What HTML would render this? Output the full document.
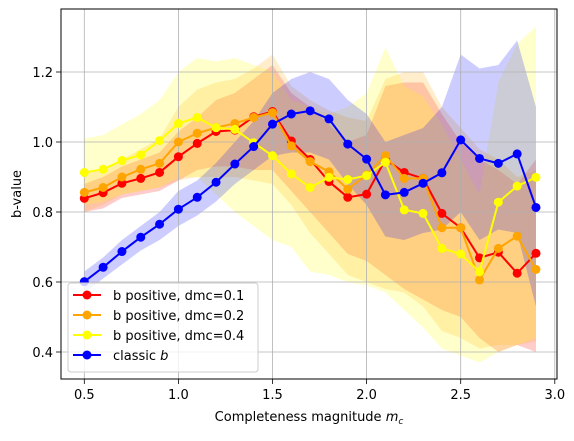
<!DOCTYPE html>
<html><head><meta charset="utf-8"><style>
body{margin:0;background:#fff;}
svg text{font-family:"DejaVu Sans","Liberation Sans",sans-serif;font-size:13px;fill:#000;}
</style></head><body>
<svg id="chart" width="574" height="436" xmlns="http://www.w3.org/2000/svg">
<g id="fills"></g>
<g id="grid"></g>
<g id="lines"></g>
<rect x="61" y="9" width="496" height="370" fill="none" stroke="#000" stroke-width="1"/>
<g id="ticks"></g>
<text x="309" y="421" text-anchor="middle">Completeness magnitude <tspan font-style="italic">m</tspan><tspan font-style="italic" font-size="9" dy="3">c</tspan></text>
<text transform="translate(21,194) rotate(-90)" text-anchor="middle">b-value</text>
<g id="legend">
<rect x="68" y="283" width="190" height="89" rx="3" fill="#fff" fill-opacity="0.8" stroke="#ccc"/>
</g>
</svg>
<script>
const xs=[0.5,0.6,0.7,0.8,0.9,1.0,1.1,1.2,1.3,1.4,1.5,1.6,1.7,1.8,1.9,2.0,2.1,2.2,2.3,2.4,2.5,2.6,2.7,2.8,2.9];
const red=[0.839,0.855,0.882,0.896,0.913,0.958,0.996,1.03,1.034,1.072,1.087,1.003,0.95,0.887,0.842,0.851,0.95,0.913,0.896,0.796,0.755,0.669,0.685,0.625,0.682];
const orange=[0.856,0.87,0.9,0.922,0.939,1.0,1.025,1.041,1.053,1.07,1.084,0.989,0.944,0.915,0.865,0.906,0.961,0.896,0.896,0.755,0.755,0.606,0.696,0.731,0.636];
const yellow=[0.913,0.922,0.947,0.963,1.004,1.053,1.07,1.041,1.036,0.998,0.961,0.909,0.87,0.899,0.893,0.904,0.942,0.806,0.796,0.696,0.68,0.629,0.828,0.874,0.899];
const blue=[0.601,0.642,0.687,0.728,0.765,0.808,0.842,0.885,0.937,0.987,1.051,1.08,1.089,1.066,0.994,0.951,0.849,0.856,0.882,0.912,1.006,0.953,0.939,0.966,0.813];
const redLo=[0.80,0.81,0.84,0.85,0.86,0.89,0.92,0.93,0.93,0.92,0.92,0.86,0.80,0.74,0.68,0.66,0.62,0.58,0.55,0.52,0.50,0.44,0.40,0.42,0.40];
const redHi=[0.88,0.90,0.93,0.95,0.97,1.03,1.07,1.12,1.14,1.18,1.22,1.14,1.10,1.05,1.00,1.02,1.16,1.17,1.17,1.08,1.00,0.95,0.92,0.88,0.95];
const orangeLo=[0.80,0.82,0.85,0.86,0.87,0.89,0.90,0.90,0.90,0.89,0.88,0.82,0.74,0.68,0.62,0.60,0.58,0.57,0.53,0.46,0.44,0.41,0.42,0.42,0.43];
const orangeHi=[0.91,0.92,0.95,0.98,1.01,1.10,1.15,1.17,1.18,1.21,1.25,1.16,1.12,1.09,1.07,1.06,1.18,1.20,1.20,1.10,1.04,0.98,0.95,0.90,0.92];
const yellowLo=[0.82,0.83,0.85,0.86,0.87,0.90,0.90,0.85,0.80,0.76,0.72,0.70,0.63,0.62,0.60,0.59,0.57,0.52,0.47,0.41,0.39,0.37,0.40,0.42,0.44];
const yellowHi=[1.01,1.02,1.05,1.08,1.12,1.20,1.24,1.23,1.24,1.22,1.20,1.12,1.10,1.08,1.10,1.14,1.27,1.16,1.13,1.05,0.95,0.85,1.17,1.28,1.33];
const blueLo=[0.57,0.61,0.65,0.69,0.72,0.76,0.79,0.83,0.88,0.92,0.96,0.97,0.97,0.95,0.88,0.82,0.73,0.72,0.74,0.75,0.80,0.72,0.75,0.74,0.53];
const blueHi=[0.63,0.67,0.72,0.76,0.80,0.86,0.89,0.94,1.00,1.06,1.14,1.18,1.20,1.18,1.12,1.08,1.00,1.02,1.04,1.10,1.25,1.21,1.22,1.29,1.10];
const xTicks=[0.5,1.0,1.5,2.0,2.5,3.0];
const yTicks=[0.4,0.6,0.8,1.0,1.2];
const legendLabels=["b positive, dmc=0.1","b positive, dmc=0.2","b positive, dmc=0.4","classic "];

const NS="http://www.w3.org/2000/svg";
const X=v=>84.3+(v-0.5)*188.2;
const Y=v=>142-(v-1.0)*350;
function mk(tag,attrs,parent){const e=document.createElementNS(NS,tag);for(const k in attrs)e.setAttribute(k,attrs[k]);parent.appendChild(e);return e;}
const fills=document.getElementById('fills'),grid=document.getElementById('grid'),lines=document.getElementById('lines'),ticks=document.getElementById('ticks'),legend=document.getElementById('legend');

const series=[
 {name:'dmc-0-1',vals:red,lo:redLo,hi:redHi,c:'#ff0000'},
 {name:'dmc-0-2',vals:orange,lo:orangeLo,hi:orangeHi,c:'#ffa500'},
 {name:'dmc-0-4',vals:yellow,lo:yellowLo,hi:yellowHi,c:'#ffff00'},
 {name:'classic-b',vals:blue,lo:blueLo,hi:blueHi,c:'#0000ff'}
];
series.forEach(s=>{
 let d='M'+xs.map((x,i)=>X(x)+','+Y(s.hi[i])).join('L');
 d+='L'+xs.slice().reverse().map((x,j)=>{const i=xs.length-1-j;return X(x)+','+Y(s.lo[i]);}).join('L')+'Z';
 const p=mk('path',{d:d,fill:s.c,'fill-opacity':0.2,stroke:'none'},fills);
 
 
});
xTicks.forEach(t=>{
 const l=mk('line',{x1:X(t),x2:X(t),y1:9,y2:379,stroke:'#b0b0b0','stroke-width':0.8},grid);
 
 
 const tk=mk('line',{x1:X(t),x2:X(t),y1:379,y2:384,stroke:'#000','stroke-width':0.8},ticks);
 
 
 const tx=mk('text',{x:X(t),y:399,'text-anchor':'middle'},ticks);
 tx.textContent=t.toFixed(1);
 
 
});
yTicks.forEach(t=>{
 const l=mk('line',{x1:61,x2:557,y1:Y(t),y2:Y(t),stroke:'#b0b0b0','stroke-width':0.8},grid);
 
 
 const tk=mk('line',{x1:56,x2:61,y1:Y(t),y2:Y(t),stroke:'#000','stroke-width':0.8},ticks);
 
 
 const tx=mk('text',{x:53,y:Y(t)+5,'text-anchor':'end'},ticks);
 tx.textContent=t.toFixed(1);
 
 
});
series.forEach(s=>{
 const g=mk('g',{},lines);
 
 
 const pl=mk('polyline',{points:xs.map((x,i)=>X(x)+','+Y(s.vals[i])).join(' '),fill:'none',stroke:s.c,'stroke-width':2,'stroke-linejoin':'round'},g);
 
 
 xs.forEach((x,i)=>{
  const c=mk('circle',{cx:X(x),cy:Y(s.vals[i]),r:4.5,fill:s.c},g);
  
  
 });
});
series.forEach((s,i)=>{
 const y=295+i*20;
 const g=mk('g',{},legend);
 
 
 mk('line',{x1:73,x2:101,y1:y,y2:y,stroke:s.c,'stroke-width':2},g);
 mk('circle',{cx:87,cy:y,r:4.5,fill:s.c},g);
 const t=mk('text',{x:113,y:y+5},g);
 t.textContent=legendLabels[i];
 if(i===3){const ts=mk('tspan',{'font-style':'italic'},t);ts.textContent='b';}
});
</script>
</body></html>
